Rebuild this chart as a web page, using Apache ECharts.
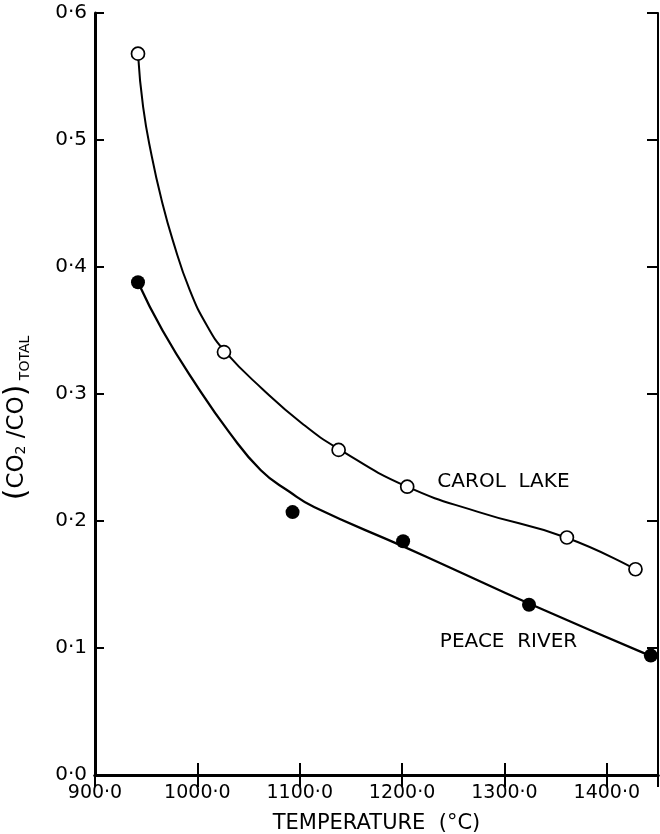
<!DOCTYPE html>
<html>
<head>
<meta charset="utf-8">
<title>CO2/CO vs temperature</title>
<script src="https://cdn.jsdelivr.net/npm/echarts@6/dist/echarts.min.js"></script>
<style>
  html, body { margin: 0; padding: 0; background: #fff; }
</style>
</head>
<body>
<div id="main" style="width: 660px; height: 834px;"></div>
<script type="text/javascript">
// measured points
var carolTemp = [942, 1026, 1138, 1205, 1361, 1428];
var carolRatio = [0.568, 0.333, 0.256, 0.227, 0.187, 0.162];
var peaceTemp = [942, 1093, 1201, 1324, 1443];
var peaceRatio = [0.388, 0.207, 0.184, 0.134, 0.094];

// hand-drawn fitted curves
var carolCurveTemp = [942, 947, 955.5, 965, 976, 992.5, 1010, 1027.5, 1063.5, 1102, 1137.5, 1205, 1275, 1360, 1428];
var carolCurveRatio = [0.568, 0.526, 0.487, 0.453, 0.421, 0.382, 0.353, 0.333, 0.304, 0.277, 0.257, 0.227, 0.207, 0.187, 0.162];
var peaceCurveTemp = [942, 966, 999, 1031, 1062, 1090, 1114, 1201, 1245, 1324, 1442];
var peaceCurveRatio = [0.388, 0.350, 0.307, 0.270, 0.240, 0.223, 0.211, 0.180, 0.164, 0.135, 0.094];

var xTicks = [900, 1000, 1100, 1200, 1300, 1400];
var yTicks = [0, 0.1, 0.2, 0.3, 0.4, 0.5, 0.6];

function pairs(xs, ys) {
  var out = [];
  for (var i = 0; i < xs.length; i++) out.push([xs[i], ys[i]]);
  return out;
}
function dotFmt(v) {
  return v.toFixed(1).replace('.', '\u00b7');
}

var FONT = 'DejaVu Sans';
var myChart = echarts.init(document.getElementById('main'));

var option = {
  animation: false,
  backgroundColor: '#fff',
  grid: { left: 95, right: 2, top: 13, bottom: 59, outerBoundsMode: 'none', containLabel: false },
  xAxis: [{
    type: 'value', min: 900, max: 1450, interval: 100,
    name: 'TEMPERATURE  (\u00b0C)', nameLocation: 'middle', nameGap: 38,
    nameTextStyle: { color: '#000', fontFamily: FONT, fontSize: 21 },
    axisLine: { lineStyle: { color: '#000', width: 3 } },
    axisTick: { inside: true, length: 12, lineStyle: { color: '#000', width: 2 } },
    axisLabel: { color: '#000', fontFamily: FONT, fontSize: 19, margin: 9, showMaxLabel: false,
      formatter: function (v) { return dotFmt(v); } },
    splitLine: { show: false }
  }, {
    type: 'value', position: 'top', min: 900, max: 1450, interval: 100,
    axisLine: { lineStyle: { color: '#000', width: 3 } },
    axisTick: { inside: true, length: 12, lineStyle: { color: '#000', width: 2 } },
    axisLabel: { show: false }, splitLine: { show: false }
  }],
  yAxis: [{
    type: 'value', min: 0, max: 0.6, interval: 0.1,
    axisLine: { lineStyle: { color: '#000', width: 3 } },
    axisTick: { inside: true, length: 9, lineStyle: { color: '#000', width: 2 } },
    axisLabel: { color: '#000', fontFamily: FONT, fontSize: 20, margin: 8,
      formatter: function (v) { return dotFmt(v); } },
    splitLine: { show: false }
  }, {
    type: 'value', position: 'right', min: 0, max: 0.6, interval: 0.1,
    axisLine: { lineStyle: { color: '#000', width: 2 } },
    axisTick: { inside: true, length: 11, lineStyle: { color: '#000', width: 2 } },
    axisLabel: { show: false }, splitLine: { show: false }
  }],
  graphic: [{
    type: 'text', x: 17, y: 418, rotation: Math.PI / 2,
    style: {
      text: '{p|(}{m|CO}{s|2}{m| /CO}{p|)}{t| TOTAL}',
      align: 'center', verticalAlign: 'middle', fill: '#000',
      rich: {
        p: { fontFamily: FONT, fontSize: 30, lineHeight: 32, verticalAlign: 'middle' },
        m: { fontFamily: FONT, fontSize: 23, verticalAlign: 'middle' },
        s: { fontFamily: FONT, fontSize: 14, verticalAlign: 'bottom', padding: [0, 0, 5, 0] },
        t: { fontFamily: FONT, fontSize: 14, verticalAlign: 'bottom', padding: [0, 0, 1, 0] }
      }
    }
  }],
  series: [{
    name: 'Carol Lake curve', type: 'line', smooth: 0.5, symbol: 'none',
    lineStyle: { color: '#000', width: 2 },
    data: pairs(carolCurveTemp, carolCurveRatio), z: 2
  }, {
    name: 'Peace River curve', type: 'line', smooth: 0.5, symbol: 'none',
    lineStyle: { color: '#000', width: 2.3 },
    data: pairs(peaceCurveTemp, peaceCurveRatio), z: 2
  }, {
    name: 'Carol Lake', type: 'scatter', symbol: 'circle', symbolSize: 13,
    itemStyle: { color: '#fff', borderColor: '#000', borderWidth: 1.7, opacity: 1 },
    data: pairs(carolTemp, carolRatio), z: 3
  }, {
    name: 'Peace River', type: 'scatter', symbol: 'circle', symbolSize: 14,
    itemStyle: { color: '#000', opacity: 1 },
    data: pairs(peaceTemp, peaceRatio), z: 3
  }, {
    name: 'labels', type: 'scatter', symbolSize: 0, silent: true,
    itemStyle: { opacity: 1 },
    label: {
      show: true, position: 'inside', color: '#000', fontFamily: FONT, fontSize: 20,
      textBorderWidth: 0,
      formatter: function (p) { return p.value[2]; }
    },
    data: [[1299, 0.231, 'CAROL  LAKE'], [1304, 0.105, 'PEACE  RIVER']]
  }]
};
myChart.setOption(option);
</script>
</body>
</html>
